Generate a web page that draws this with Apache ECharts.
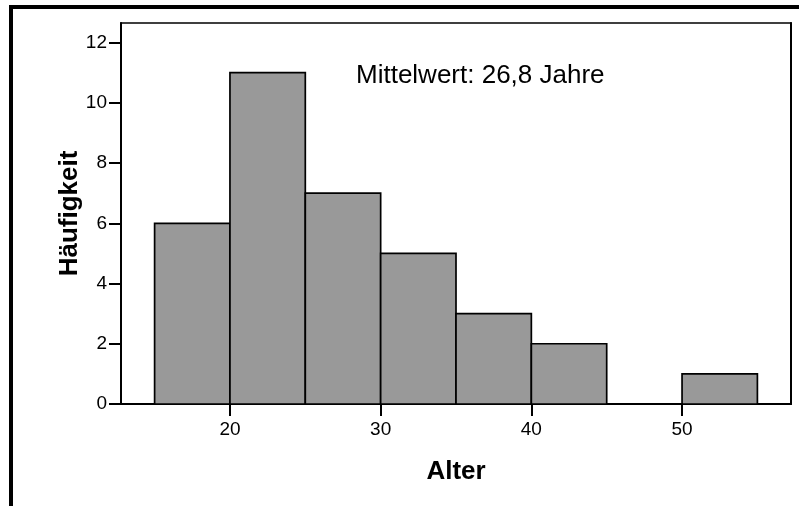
<!DOCTYPE html>
<html>
<head>
<meta charset="utf-8">
<script src="https://cdn.jsdelivr.net/npm/echarts@6/dist/echarts.min.js"></script>
<style>html,body{margin:0;padding:0;background:#fff}#c{width:799px;height:506px}</style>
</head>
<body>
<div id="c"></div>
<script>
// Data
const binStarts = [15, 20, 25, 30, 35, 40, 45, 50];
const binWidth = 5;
const counts = [6, 11, 7, 5, 3, 2, 0, 1];
const xTicks = [20, 30, 40, 50];
const yTicks = [0, 2, 4, 6, 8, 10, 12];
const xTitle = 'Alter';
const yTitle = 'Häufigkeit';
const note = 'Mittelwert: 26,8 Jahre';

const FONT = '"Liberation Sans", Arial, sans-serif';
const chart = echarts.init(document.getElementById('c'), null, {renderer: 'canvas'});

const seriesData = binStarts.map((s, i) => [s, s + binWidth, counts[i]]);

chart.setOption({
  animation: false,
  backgroundColor: '#ffffff',
  grid: {left: 121, right: 8, top: 23, bottom: 102, show: true, borderColor: '#000', borderWidth: 1.5, backgroundColor: 'transparent'},
  xAxis: {
    type: 'value', min: 12.77, max: 57.23,
    name: xTitle, nameLocation: 'middle', nameGap: 55,
    nameTextStyle: {fontFamily: FONT, fontSize: 26, fontWeight: 'bold', color: '#000'},
    axisLine: {show: true, onZero: false, lineStyle: {color: '#000', width: 2}},
    axisTick: {show: true, length: 12, inside: false, customValues: xTicks, lineStyle: {color: '#000', width: 2}},
    axisLabel: {customValues: xTicks, margin: 16, fontFamily: FONT, fontSize: 19, color: '#000'},
    splitLine: {show: false}
  },
  yAxis: [{
    type: 'value', min: 0, max: 12.65,
    name: yTitle, nameLocation: 'middle', nameGap: 38, nameRotate: 90, nameMoveOverlap: false,
    nameTextStyle: {fontFamily: FONT, fontSize: 26, fontWeight: 'bold', color: '#000'},
    axisLine: {show: true, lineStyle: {color: '#000', width: 2}},
    axisTick: {show: true, length: 12, customValues: yTicks, lineStyle: {color: '#000', width: 2}},
    axisLabel: {customValues: yTicks, margin: 14, fontFamily: FONT, fontSize: 19, color: '#000'},
    splitLine: {show: false}
  }, {
    type: 'value', min: 0, max: 12.65, position: 'right',
    axisLine: {show: true, lineStyle: {color: '#000', width: 2}},
    axisTick: {show: false}, axisLabel: {show: false}, splitLine: {show: false}
  }],
  series: [{
    type: 'custom',
    data: seriesData,
    encode: {x: [0, 1], y: 2},
    renderItem: function (params, api) {
      const v = api.value(2);
      if (!v) return null;
      const p0 = api.coord([api.value(0), v]);
      const p1 = api.coord([api.value(1), 0]);
      return {
        type: 'rect',
        shape: {x: p0[0], y: p0[1], width: p1[0] - p0[0], height: p1[1] - p0[1]},
        style: {fill: '#999999', stroke: '#000', lineWidth: 1.7}
      };
    },
    z: 1
  }],
  graphic: [
    {type: 'polyline', shape: {points: [[11, 506], [11, 7], [799, 7]]}, style: {stroke: '#000', lineWidth: 4, fill: null, lineJoin: 'miter'}, silent: true},
    {type: 'text', left: 356, top: 63, style: {text: note, font: '26px "Liberation Sans", Arial, sans-serif', fill: '#000'}}
  ]
});
</script>
</body>
</html>
